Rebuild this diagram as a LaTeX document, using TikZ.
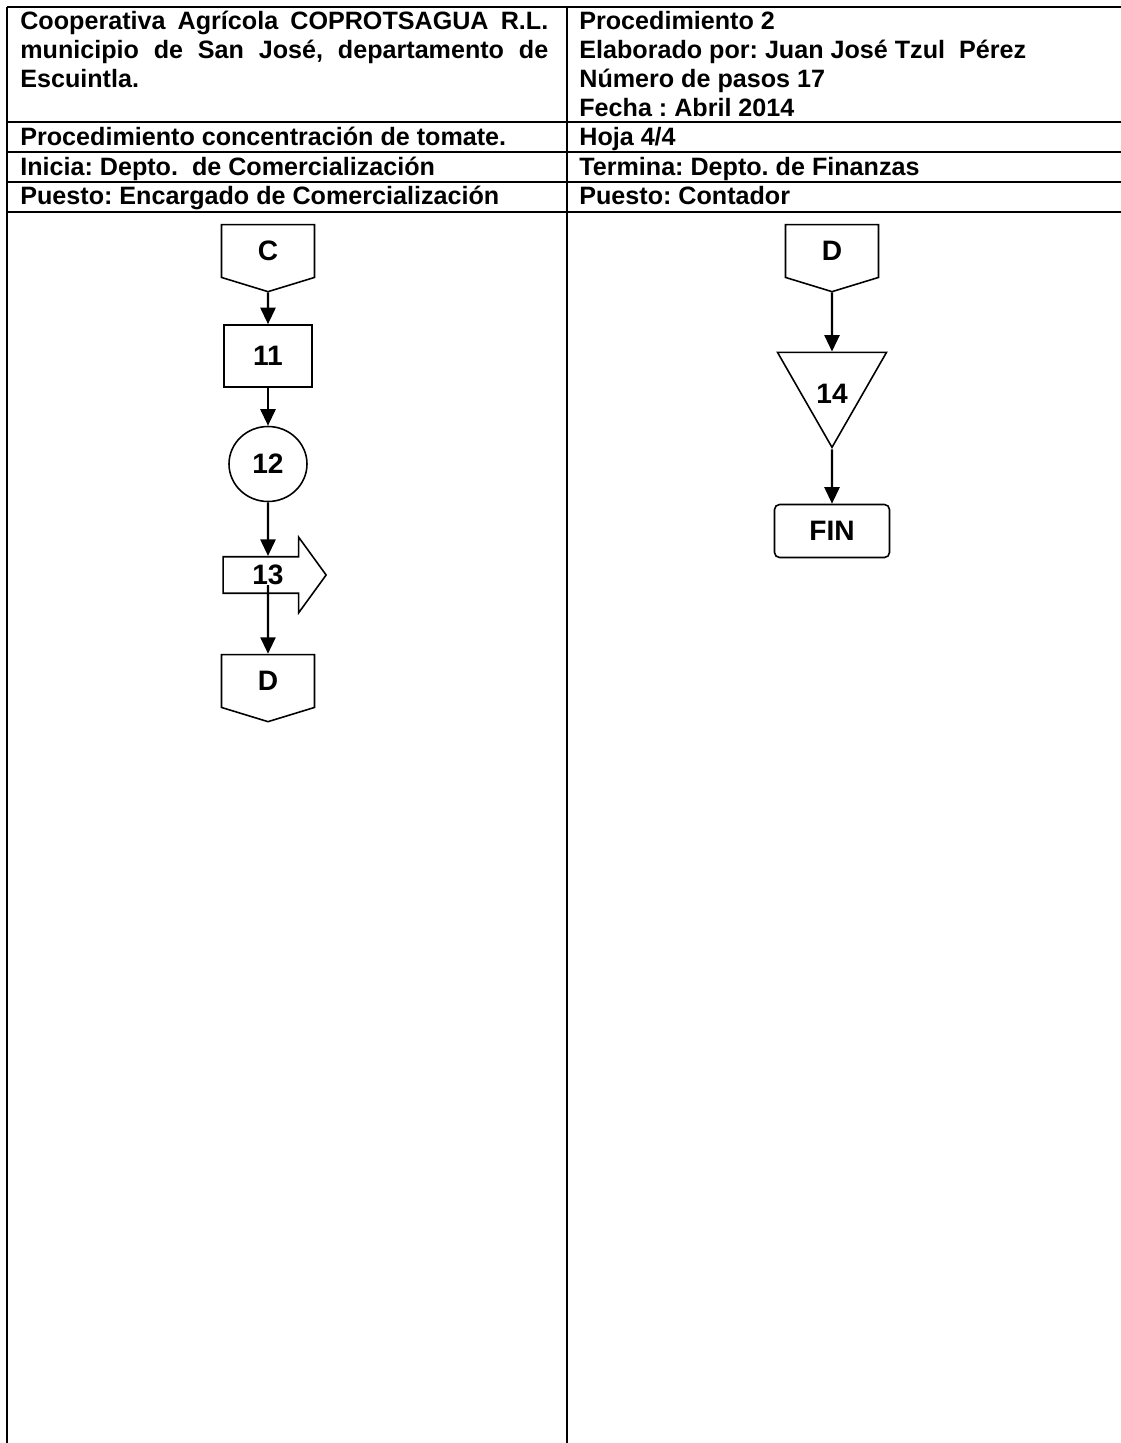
\documentclass[tikz,border=0pt]{standalone}
\usepackage{fontspec}
\setmainfont{Liberation Sans}
\usetikzlibrary{arrows.meta,shapes.geometric,shapes.symbols,shapes.arrows}

\hyphenpenalty=10000
\exhyphenpenalty=10000
\tolerance=9999

\tikzset{
  paso/.style={draw, line width=0.9pt, font=\fontsize{16}{18}\selectfont\bfseries, inner sep=0pt},
  conector/.style={paso, shape=signal, signal to=south, signal from=nowhere, signal pointer angle=146, minimum width=1.86cm, minimum height=1.12cm},
  flecha/.style={line width=1.4pt, -{Triangle[length=0.33cm,width=0.3cm]}},
  raya/.style={line width=1pt},
  celda/.style={anchor=base west, inner sep=0pt, font=\fontsize{14.3}{16.5}\selectfont\bfseries}
}

\begin{document}
\frenchspacing
\begin{tikzpicture}[x=0.02cm, y=-0.02cm]
\useasboundingbox (0,0) rectangle (1121,1443);
% tabla
\draw[raya] (7,7) -- (1121,7);
\foreach \y in {122,152,182,212}
  \draw[raya] (7,\y) -- (1121,\y);
\draw[raya] (7,7) -- (7,1443);
\draw[raya] (567,7) -- (567,1443);

% encabezado
\node[celda, anchor=north west, text width=10.56cm, align=justify] (empresa) at (20,11) {Cooperativa Agrícola COPROTSAGUA R.L. municipio de San José, departamento de \mbox{Escuintla.}};
\node[celda, anchor=north west, align=left] (datos) at (579,11) {Procedimiento 2\\Elaborado por: Juan José Tzul~ Pérez\\Número de pasos 17\\Fecha : Abril 2014};
\node[celda] (proc) at (20,145) {Procedimiento concentración de tomate.};
\node[celda] (hoja) at (579,145) {Hoja 4/4};
\node[celda] (inicia) at (20,175) {Inicia: Depto.~ de Comercialización};
\node[celda] (termina) at (579,175) {Termina: Depto. de Finanzas};
\node[celda] (puesto1) at (20,204) {Puesto: Encargado de Comercialización};
\node[celda] (puesto2) at (579,204) {Puesto: Contador};

% comercializacion
\node[conector] (c) at (268,251) {C};
\node[paso, minimum width=1.76cm, minimum height=1.24cm] (p11) at (268,356) {11};
\node[paso, ellipse, minimum width=1.56cm, minimum height=1.5cm] (p12) at (268,464) {12};
\node[paso, single arrow, single arrow head extend=0.39cm, single arrow tip angle=108, minimum height=2.06cm, inner ysep=0.15cm] (p13) at (268,575) {13};
\node[conector] (d1) at (268,681) {D};

% finanzas
\node[conector] (d2) at (832,251) {D};
\node[paso, isosceles triangle, shape border rotate=-90, isosceles triangle stretches, minimum width=2.18cm, minimum height=1.9cm, text height=0.85cm, text depth=0cm] (p14) at (832,382) {14};
\node[paso, rounded corners=0.1cm, minimum width=2.3cm, minimum height=1.06cm] (fin) at (832,531) {FIN};

\draw[flecha] (c) -- (p11);
\draw[flecha] (p11) -- (p12);
\draw[flecha] (p12) -- (p13);
\draw[flecha, shorten <=0.2cm] (p13.center) -- (d1);
\draw[flecha] (d2) -- (p14);
\draw[flecha] (p14) -- (fin);
\end{tikzpicture}
\end{document}
